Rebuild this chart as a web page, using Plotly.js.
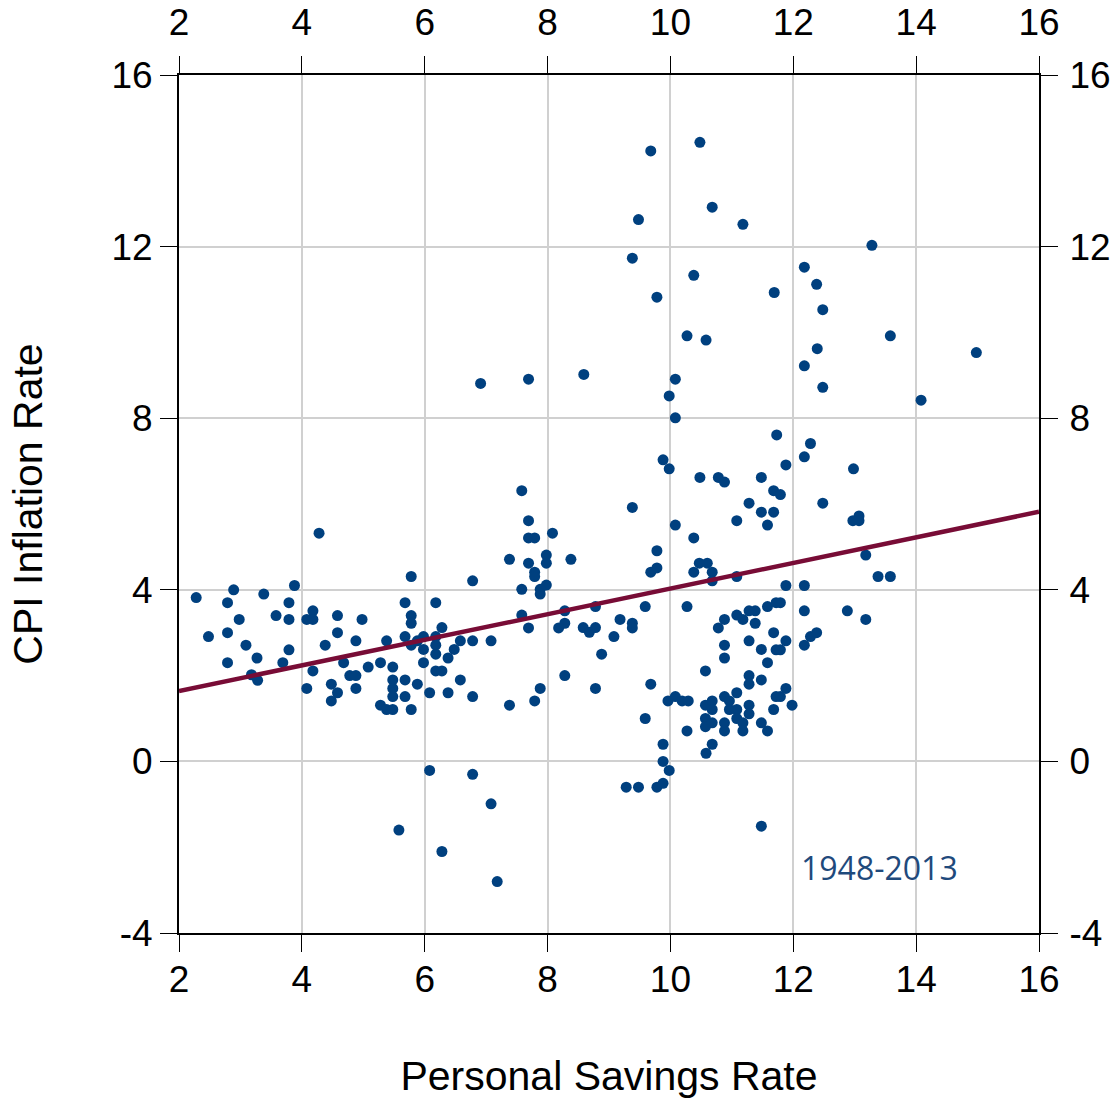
<!DOCTYPE html>
<html>
<head>
<meta charset="utf-8">
<script src="https://cdn.plot.ly/plotly-3.0.1.min.js"></script>
<style>html,body{margin:0;padding:0;background:#fff;}#chart{width:1113px;height:1101px;}</style>
</head>
<body>
<div id="chart"></div>
<script>
// Personal savings rate (x) vs CPI inflation rate (y), 1948-2013
const savingsRate = [
2.28,2.89,2.79,3.38,3.88,3.79,2.98,3.58,3.79,2.48,2.79,3.09,3.27,2.79,3.79,3.69,3.18,3.28,
4.28,4.18,4.08,4.18,4.58,4.98,4.58,4.38,4.88,4.18,4.08,4.68,4.48,4.58,4.48,4.78,4.88,4.88,
5.08,5.28,5.38,5.48,5.48,5.48,5.48,5.28,5.38,5.48,5.68,5.68,5.78,5.88,5.78,5.68,5.78,5.78,
6.18,5.68,5.78,5.88,5.98,5.98,6.18,6.18,6.18,6.28,5.98,6.18,6.28,6.38,6.48,6.58,6.78,6.78,
6.58,6.08,6.38,6.78,
9.38,7.69,7.69,7.79,8.08,7.38,7.69,7.98,7.98,8.38,7.79,7.79,7.98,7.58,7.88,7.88,7.58,7.69,
7.08,8.28,8.28,8.18,8.78,8.58,8.68,8.78,9.18,9.08,9.38,9.38,8.88,9.59,9.68,9.78,9.78,10.08,
10.38,10.27,10.38,10.47,10.60,10.68,10.68,11.08,11.08,11.28,11.48,11.68,11.58,8.28,7.88,7.79,
7.38,8.78,9.68,9.59,9.88,9.96,10.08,10.19,10.29,10.27,10.57,10.78,10.88,11.08,11.18,11.28,
11.38,11.58,11.72,11.38,10.88,10.88,11.28,11.48,11.58,11.68,11.72,11.28,11.28,11.48,11.72,11.68,
10.57,10.68,10.68,10.57,10.57,10.68,10.88,10.96,11.08,10.96,11.08,11.08,11.18,11.28,11.28,10.88,
10.88,11.18,11.48,11.58,10.68,
12.48,12.97,13.07,13.07,13.18,13.38,13.58,11.88,12.18,11.79,12.18,12.88,13.18,11.88,11.79,12.18,
12.28,12.38,11.88,11.79,11.98,
6.08,6.78,5.58,6.28,
7.08,7.18,9.28,9.48,9.78,9.88,9.88,9.98,10.58,11.48,
6.91,7.69,8.59,10.27,10.58,10.08,9.98,10.08,9.88,9.98,10.48,10.78,10.88,11.48,11.68,11.73,7.58,
13.58,14.98,12.39,12.18,12.48,14.08,12.28,12.18,11.88,12.98,11.79,
9.68,10.48,10.68,11.18,9.48,13.28,9.38,10.38,9.78,11.69,12.18,12.38,12.48
];
const inflationRate = [
3.82,4.00,3.70,3.90,4.10,3.70,3.31,3.40,3.31,2.91,3.00,2.71,2.41,2.30,2.60,2.30,2.02,1.89,
5.32,3.51,3.31,3.31,3.40,3.31,3.00,2.71,2.81,2.11,1.70,2.30,1.80,1.60,1.41,2.00,2.00,1.70,
2.20,2.30,2.81,2.20,1.90,1.70,1.51,1.31,1.21,1.21,1.90,1.51,1.21,1.80,4.31,3.70,3.40,3.22,
3.70,2.91,2.71,2.81,2.91,2.61,2.91,2.71,2.50,3.12,2.30,2.11,2.11,2.41,2.61,2.81,2.81,4.21,
1.90,1.60,1.60,1.51,
5.92,5.61,5.21,5.21,5.32,4.71,4.62,4.81,4.62,4.71,4.41,4.31,4.11,4.01,4.01,3.90,3.41,3.11,
2.81,3.51,3.22,3.11,3.61,3.12,3.01,3.12,3.31,2.91,3.22,3.11,2.50,3.61,4.41,4.51,4.91,5.51,
5.21,3.61,4.41,4.62,4.62,4.41,4.21,5.61,4.31,6.02,5.81,5.81,5.51,2.00,1.70,1.41,
1.31,1.70,1.80,1.00,0.40,1.41,1.51,1.41,1.41,0.71,2.11,3.11,3.31,3.41,3.31,3.51,
3.51,3.61,3.70,3.22,2.71,2.41,2.81,2.61,2.30,3.00,2.60,2.00,1.80,1.90,1.51,1.21,
1.31,1.41,1.21,1.00,0.81,0.90,1.51,1.41,1.60,1.21,1.21,1.00,0.90,1.31,1.11,0.90,
0.71,0.71,0.90,0.71,0.40,
6.02,5.61,5.72,5.61,4.81,4.31,4.31,4.10,4.10,3.70,3.51,3.51,3.31,2.81,2.60,2.71,
2.91,3.00,1.70,1.51,1.31,
-0.21,-0.30,-1.60,-2.10,
-0.99,-2.80,-0.60,-0.60,-0.60,-0.51,0.00,-0.21,0.19,-1.51,
8.81,8.91,9.02,9.92,9.82,8.91,8.52,8.01,7.03,6.82,6.62,6.62,6.51,6.62,6.31,7.61,6.31,
9.92,9.53,9.62,9.22,8.72,8.42,7.41,7.10,6.91,6.82,6.22,
14.23,14.43,12.92,12.52,12.63,12.03,11.73,11.33,10.82,10.93,11.52,11.12,10.53
];
// Fitted trend line end points
const trendX = [2, 16];
const trendY = [1.64, 5.82];
const xTicks = [2, 4, 6, 8, 10, 12, 14, 16];
const xTickText = ['2', '4', '6', '8', '10', '12', '14', '16'];
const yTicks = [-4, 0, 4, 8, 12, 16];
const yTickText = ['-4', '0', '4', '8', '12', '16'];
const periodLabel = '1948-2013';
const xTitle = 'Personal Savings Rate';
const yTitle = 'CPI Inflation Rate';

const sansFont = '"Liberation Sans", Arial, sans-serif';
const tickFont = {family: sansFont, size: 37, color: '#000'};
const titleFont = {family: sansFont, size: 41, color: '#000'};
const axisCommon = {
  showline: true, linecolor: '#000', linewidth: 2,
  ticks: 'outside', ticklen: 17, tickwidth: 1, tickcolor: '#000',
  tickfont: tickFont, zeroline: false, fixedrange: true
};

const traces = [
  {
    type: 'scatter', mode: 'markers', x: savingsRate, y: inflationRate,
    marker: {color: '#00407f', size: 11}, hoverinfo: 'x+y', showlegend: false
  },
  {
    type: 'scatter', mode: 'lines', x: trendX, y: trendY,
    line: {color: '#780c36', width: 4.5}, hoverinfo: 'skip', showlegend: false
  },
  {
    type: 'scatter', mode: 'markers', x: trendX, y: trendY, xaxis: 'x2', yaxis: 'y2',
    marker: {opacity: 0}, hoverinfo: 'skip', showlegend: false
  }
];

const layout = {
  width: 1113, height: 1101,
  margin: {l: 179, r: 74, t: 75, b: 168},
  paper_bgcolor: '#fff', plot_bgcolor: '#fff',
  showlegend: false,
  xaxis: Object.assign({}, axisCommon, {
    range: [2, 16], tickvals: xTicks, ticktext: xTickText, ticklabelstandoff: -4,
    showgrid: true, gridcolor: '#d0d0d0', gridwidth: 2,
    title: {text: xTitle, font: titleFont, standoff: 62}
  }),
  yaxis: Object.assign({}, axisCommon, {
    range: [-4, 16], tickvals: yTicks, ticktext: yTickText,
    showgrid: true, gridcolor: '#d0d0d0', gridwidth: 2,
    title: {text: yTitle, font: titleFont, standoff: 56}
  }),
  xaxis2: Object.assign({}, axisCommon, {
    range: [2, 16], tickvals: xTicks, ticktext: xTickText, ticklabelstandoff: 6,
    overlaying: 'x', side: 'top', anchor: 'y', showgrid: false
  }),
  yaxis2: Object.assign({}, axisCommon, {
    range: [-4, 16], tickvals: yTicks, ticktext: yTickText, ticklabelstandoff: 4,
    overlaying: 'y', side: 'right', anchor: 'x', showgrid: false
  }),
  annotations: [{
    text: periodLabel, xref: 'x', yref: 'y', x: 12.1, y: -2.47,
    xanchor: 'left', yanchor: 'middle', showarrow: false,
    font: {family: '"Open Sans", "Noto Sans", sans-serif', size: 32, color: '#1f4a7c'}
  }]
};

Plotly.newPlot('chart', traces, layout, {displayModeBar: false, staticPlot: true});
</script>
</body>
</html>
